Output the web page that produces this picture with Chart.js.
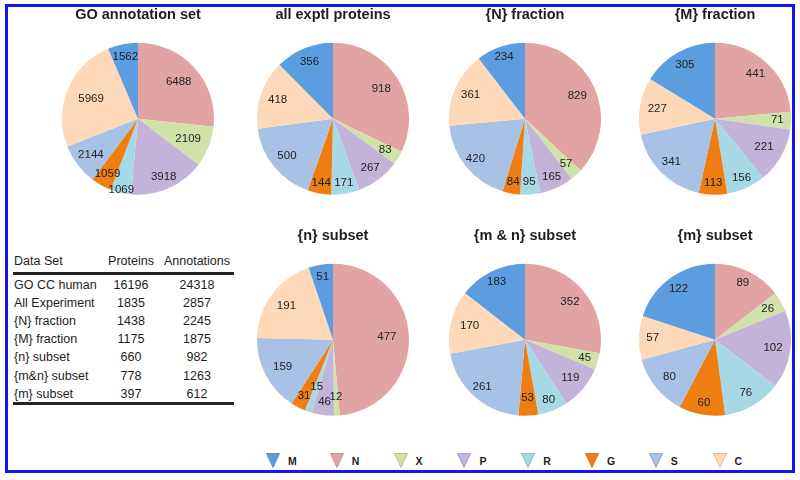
<!DOCTYPE html>
<html>
<head>
<meta charset="utf-8">
<script src="https://cdn.jsdelivr.net/npm/chart.js@4"></script>
<style>
  html, body { margin: 0; padding: 0; background: #fff; }
  body { width: 800px; height: 480px; position: relative; overflow: hidden; font-family: 'Liberation Sans', Arial, Helvetica, sans-serif; color: #1e1e1e; }
  .frame { position: absolute; left: 5px; top: 4px; width: 784px; height: 463px; border: 3px solid #1414f2; }
  .pie { position: absolute; }
  .tcell { position: absolute; font-size: 12.5px; line-height: 14px; white-space: nowrap; }
  .rule { position: absolute; left: 13px; width: 221px; height: 2.5px; background: #222; }
  .leg { position: absolute; top: 453px; height: 15px; }
  .leg svg { position: absolute; left: -7px; top: 0; }
  .leg span { position: absolute; left: 15px; top: 2px; font-size: 10.5px; font-weight: bold; }
</style>
</head>
<body>
<div class="frame"></div>
<div id="root"></div>
<script>
// slices clockwise from 12 o'clock
const categories = ['N', 'X', 'P', 'R', 'G', 'S', 'C', 'M'];
const legendOrder = ['M', 'N', 'X', 'P', 'R', 'G', 'S', 'C'];

const goAnnotation = [6488, 2109, 3918, 1069, 1059, 2144, 5969, 1562];
const allExptl = [918, 83, 267, 171, 144, 500, 418, 356];
const fractionN = [829, 57, 165, 95, 84, 420, 361, 234];
const fractionM = [441, 71, 221, 156, 113, 341, 227, 305];
const subsetn = [477, 12, 46, 15, 31, 159, 191, 51];
const subsetmn = [352, 45, 119, 80, 53, 261, 170, 183];
const subsetm = [89, 26, 102, 76, 60, 80, 57, 122];

const tableHeader = ['Data Set', 'Proteins', 'Annotations'];
const tableSets = ['GO CC human', 'All Experiment', '{N} fraction', '{M} fraction', '{n} subset', '{m&n} subset', '{m} subset'];
const tableProteins = [16196, 1835, 1438, 1175, 660, 778, 397];
const tableAnnotations = [24318, 2857, 2245, 1875, 982, 1263, 612];

const colors = { M: '#5c9de0', N: '#e2a3a3', X: '#d0e2aa', P: '#c4b3d9', R: '#a7d8e6', G: '#ef7e12', S: '#a7c2e4', C: '#fdd9ba' };
const edge = { M: '#4a7fb8', N: '#b88484', X: '#a8b88a', P: '#9d90b3', R: '#86aebb', G: '#c0650e', S: '#879dba', C: '#ccae95' };

// where each value label sits, as a share of the radius
const pies = [
  { title: 'GO annotation set', data: goAnnotation, cx: 138, cy: 119, lr: [0.72, 0.71, 0.84, 0.96, 0.83, 0.78, 0.67, 0.83] },
  { title: 'all exptl proteins', data: allExptl, cx: 333, cy: 119, lr: [0.75, 0.8, 0.81, 0.86, 0.86, 0.78, 0.77, 0.81] },
  { title: '{N} fraction', data: fractionN, cx: 525, cy: 119, lr: [0.75, 0.8, 0.84, 0.83, 0.85, 0.84, 0.78, 0.86] },
  { title: '{M} fraction', data: fractionM, cx: 715, cy: 119, lr: [0.79, 0.82, 0.74, 0.85, 0.84, 0.81, 0.77, 0.81] },
  { title: '{n} subset', data: subsetn, cx: 333, cy: 340, lr: [0.71, 0.75, 0.83, 0.66, 0.83, 0.75, 0.76, 0.84] },
  { title: '{m & n} subset', data: subsetmn, cx: 525, cy: 340, lr: [0.77, 0.82, 0.78, 0.85, 0.77, 0.84, 0.75, 0.85] },
  { title: '{m} subset', data: subsetm, cx: 715, cy: 340, lr: [0.83, 0.8, 0.77, 0.81, 0.84, 0.77, 0.82, 0.82] },
];

const FONT = "'Liberation Sans', Arial, Helvetica, sans-serif";
const root = document.getElementById('root');

const valueLabels = {
  id: 'valueLabels',
  afterDatasetsDraw(chart, args, opts) {
    const ctx = chart.ctx;
    const meta = chart.getDatasetMeta(0);
    ctx.save();
    ctx.font = '11.5px ' + FONT;
    ctx.fillStyle = '#1e1e1e';
    ctx.textAlign = 'center';
    ctx.textBaseline = 'middle';
    meta.data.forEach((arc, i) => {
      const p = arc.getProps(['x', 'y', 'startAngle', 'endAngle', 'outerRadius'], true);
      const mid = (p.startAngle + p.endAngle) / 2;
      const r = p.outerRadius * opts.lr[i];
      ctx.fillText(String(chart.data.datasets[0].data[i]), p.x + Math.cos(mid) * r, p.y + Math.sin(mid) * r);
    });
    ctx.restore();
  }
};

pies.forEach((pc) => {
  const cv = document.createElement('canvas');
  cv.className = 'pie';
  cv.width = 170; cv.height = 198;
  cv.style.left = (pc.cx - 85) + 'px';
  cv.style.top = (pc.cy - 115) + 'px';
  root.appendChild(cv);
  new Chart(cv.getContext('2d'), {
    type: 'pie',
    data: {
      labels: categories,
      datasets: [{ data: pc.data, backgroundColor: categories.map((c) => colors[c]), borderWidth: 0, radius: 76 }]
    },
    options: {
      responsive: false, animation: false,
      layout: { padding: 0 },
      plugins: {
        legend: { display: false },
        tooltip: { enabled: false },
        title: { display: true, text: pc.title, color: '#1e1e1e', font: { family: FONT, size: 14.5, weight: 'bold' }, padding: { top: 2, bottom: 12 } },
        valueLabels: { lr: pc.lr }
      }
    },
    plugins: [valueLabels]
  });
});

// table on the left
function cell(text, x, y, align, w) {
  const d = document.createElement('div');
  d.className = 'tcell';
  d.textContent = text;
  d.style.top = (y - 7) + 'px';
  if (align === 'center') { d.style.left = (x - w / 2) + 'px'; d.style.width = w + 'px'; d.style.textAlign = 'center'; }
  else d.style.left = x + 'px';
  root.appendChild(d);
}
cell(tableHeader[0], 14, 261);
cell(tableHeader[1], 131, 261, 'center', 60);
cell(tableHeader[2], 197, 261, 'center', 80);
tableSets.forEach((s, i) => {
  const y = 285 + i * 18.1;
  cell(s, 14, y);
  cell(String(tableProteins[i]), 131, y, 'center', 60);
  cell(String(tableAnnotations[i]), 197, y, 'center', 80);
});
[272, 402].forEach((y) => { const r = document.createElement('div'); r.className = 'rule'; r.style.top = y + 'px'; root.appendChild(r); });

// legend along the bottom
legendOrder.forEach((c, i) => {
  const d = document.createElement('div');
  d.className = 'leg';
  d.style.left = (273 + i * 63.8) + 'px';
  d.innerHTML = '<svg width="14" height="15"><polygon points="0.5,0.5 13.5,0.5 7,14.5" fill="' + colors[c] + '" stroke="' + edge[c] + '" stroke-width="0.8"/></svg><span>' + c + '</span>';
  root.appendChild(d);
});
</script>
</body>
</html>
